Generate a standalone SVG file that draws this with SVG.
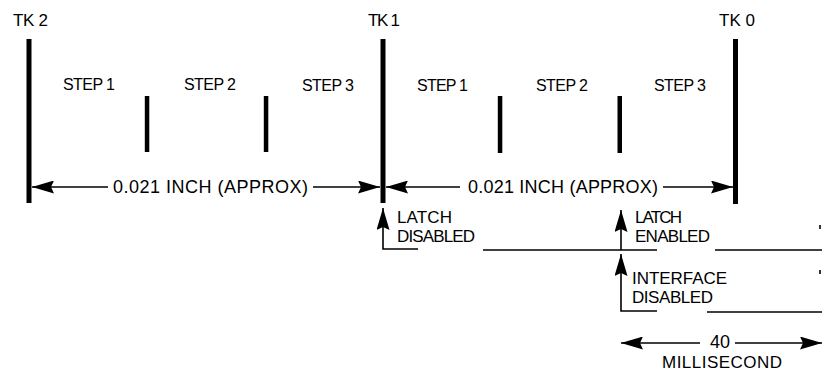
<svg xmlns="http://www.w3.org/2000/svg" width="822" height="373" viewBox="0 0 822 373">
<style>
text{font-family:"Liberation Sans",Arial,sans-serif;fill:#000;}
.lbl{font-size:17px;}
.step{font-size:16px;}
.dim{font-size:18px;}
.ln{stroke:#000;stroke-width:1.6;fill:none;}
.bar{fill:#000;}
</style>
<defs>
<marker id="ah" markerUnits="userSpaceOnUse" markerWidth="22" markerHeight="13" refX="22" refY="6.5" orient="auto-start-reverse">
<path d="M0,0 L22,6.5 L0,13 L3,6.5 Z" fill="#000"/>
</marker>
</defs>
<rect width="822" height="373" fill="#fff"/>
<g id="tk2"><rect class="bar" x="26.5" y="39" width="5" height="164"/><text class="lbl" x="13" y="26" textLength="35" lengthAdjust="spacing">TK 2</text></g>
<g id="tk1"><rect class="bar" x="380.5" y="39" width="5" height="164"/><text class="lbl" x="368" y="26" textLength="32" lengthAdjust="spacing">TK 1</text></g>
<g id="tk0"><rect class="bar" x="733" y="39" width="5" height="165"/><text class="lbl" x="719" y="26" textLength="36" lengthAdjust="spacing">TK 0</text></g>
<g id="steps">
<rect class="bar" x="144.8" y="96" width="4.5" height="56"/>
<rect class="bar" x="263.8" y="96" width="4.5" height="56"/>
<rect class="bar" x="497.8" y="96" width="4.5" height="57"/>
<rect class="bar" x="617.5" y="96" width="4.5" height="57"/>
<text class="step" x="63" y="90" textLength="52" lengthAdjust="spacing">STEP 1</text>
<text class="step" x="184" y="90" textLength="52" lengthAdjust="spacing">STEP 2</text>
<text class="step" x="302" y="91" textLength="52" lengthAdjust="spacing">STEP 3</text>
<text class="step" x="417" y="91" textLength="51" lengthAdjust="spacing">STEP 1</text>
<text class="step" x="536" y="91" textLength="52" lengthAdjust="spacing">STEP 2</text>
<text class="step" x="654" y="91" textLength="52" lengthAdjust="spacing">STEP 3</text>
</g>
<g id="connectors">
<line class="ln" x1="108" y1="187" x2="32" y2="187" marker-end="url(#ah)"/>
<line class="ln" x1="313" y1="187" x2="380" y2="187" marker-end="url(#ah)"/>
<line class="ln" x1="460" y1="187" x2="386" y2="187" marker-end="url(#ah)"/>
<line class="ln" x1="663" y1="187" x2="733" y2="187" marker-end="url(#ah)"/>
<path class="ln" d="M418,249 H383 V208" marker-end="url(#ah)"/>
<line class="ln" x1="483" y1="250" x2="657" y2="250"/>
<line class="ln" x1="715" y1="250" x2="822" y2="250"/>
<line class="ln" x1="621" y1="250" x2="621" y2="210" marker-end="url(#ah)"/>
<path class="ln" d="M657,311 H621 V254" marker-end="url(#ah)"/>
<line class="ln" x1="707" y1="312" x2="822" y2="312"/>
<line class="ln" x1="700" y1="343" x2="621" y2="343" marker-end="url(#ah)"/>
<line class="ln" x1="735" y1="343" x2="822" y2="343" marker-end="url(#ah)"/>
<line class="ln" x1="820" y1="225" x2="820" y2="229"/>
<line class="ln" x1="820" y1="270" x2="820" y2="274"/>
</g>
<g id="dim1"><text class="dim" x="113" y="193" textLength="195" lengthAdjust="spacing">0.021 INCH (APPROX)</text></g>
<g id="dim2"><text class="dim" x="468" y="193" textLength="190" lengthAdjust="spacing">0.021 INCH (APPROX)</text></g>
<g id="latch-disabled"><text class="lbl" x="397" y="223" textLength="55" lengthAdjust="spacing">LATCH</text><text class="lbl" x="397" y="242" textLength="78" lengthAdjust="spacing">DISABLED</text></g>
<g id="latch-enabled"><text class="lbl" x="635" y="223" textLength="47" lengthAdjust="spacing">LATCH</text><text class="lbl" x="635" y="242" textLength="75" lengthAdjust="spacing">ENABLED</text></g>
<g id="interface-disabled"><text class="lbl" x="632" y="284" textLength="95" lengthAdjust="spacing">INTERFACE</text><text class="lbl" x="632" y="303" textLength="81" lengthAdjust="spacing">DISABLED</text></g>
<g id="ms"><text class="lbl" x="710" y="348" style="font-size:18px">40</text><text class="lbl" x="662" y="368" textLength="120" lengthAdjust="spacing">MILLISECOND</text></g>
</svg>
